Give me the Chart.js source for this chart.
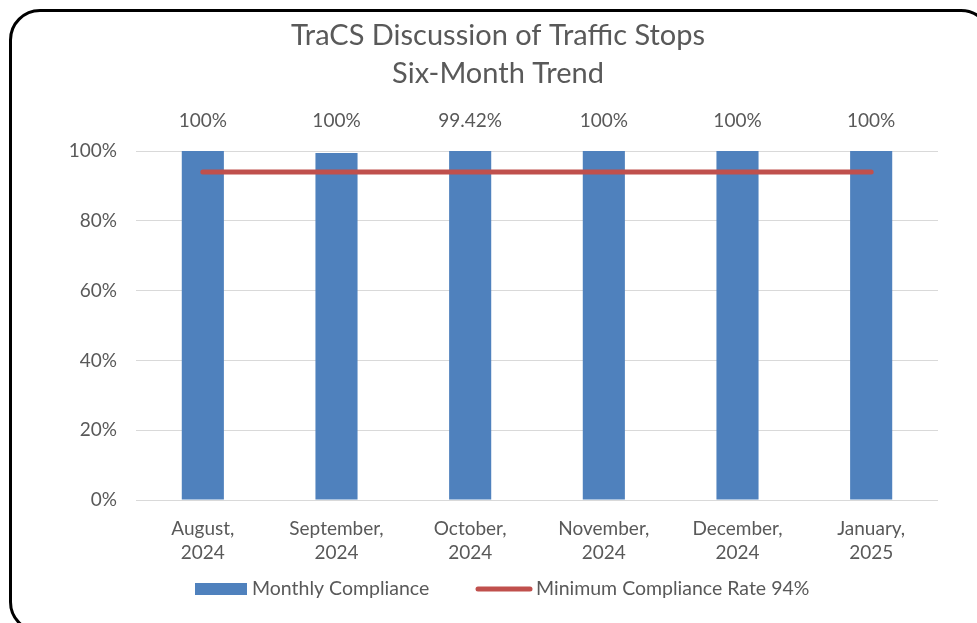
<!DOCTYPE html>
<html>
<head>
<meta charset="utf-8">
<script src="https://cdn.jsdelivr.net/npm/chart.js@4.4.0/dist/chart.umd.min.js"></script>
<style>
  html, body { margin: 0; padding: 0; background: #fff; overflow: hidden; }
  #wrap { position: relative; width: 977px; height: 623px; overflow: hidden; }
  #frame { position: absolute; left: 9px; top: 9px; width: 983px; height: 624px; border: 3px solid #000; border-radius: 31px; box-sizing: border-box; }
  canvas { position: absolute; left: 0; top: 0; }
</style>
</head>
<body>
<div id="wrap">
  <div id="frame"></div>
  <canvas id="c" width="977" height="623"></canvas>
</div>
<script>
const categories = [["August,", "2024"], ["September,", "2024"], ["October,", "2024"], ["November,", "2024"], ["December,", "2024"], ["January,", "2025"]];
const monthlyCompliance = [100, 99.42, 100, 100, 100, 100];
const dataLabels = ["100%", "100%", "99.42%", "100%", "100%", "100%"];
const minimumRate = [94, 94, 94, 94, 94, 94];
const yTicks = [0, 20, 40, 60, 80, 100];
const seriesNames = ["Monthly Compliance", "Minimum Compliance Rate 94%"];
const titleLines = ["TraCS Discussion of Traffic Stops", "Six-Month Trend"];

const FONT = "Lato, 'Open Sans', sans-serif";
const FS = 19;
const TEXT = "#595959";
const BLUE = "#4f81bd";
const RED = "#c0504d";

const titlePlugin = {
  id: 'titleLines',
  afterDraw(chart) {
    const ctx = chart.ctx;
    ctx.save();
    ctx.font = "29px " + FONT;
    ctx.fillStyle = TEXT;
    ctx.textAlign = 'center';
    ctx.textBaseline = 'middle';
    ctx.fillText(titleLines[0], 498, 36);
    ctx.fillText(titleLines[1], 498, 74);
    ctx.restore();
  }
};

const labelPlugin = {
  id: 'topLabels',
  afterDatasetsDraw(chart) {
    const ctx = chart.ctx;
    const x = chart.scales.x;
    ctx.save();
    ctx.font = FS + "px " + FONT;
    ctx.fillStyle = TEXT;
    ctx.textAlign = 'center';
    ctx.textBaseline = 'middle';
    dataLabels.forEach((t, i) => {
      ctx.fillText(t, x.getPixelForValue(i), chart.chartArea.top - 30);
    });
    ctx.restore();
  }
};

const legendPlugin = {
  id: 'customLegend',
  afterDraw(chart) {
    const ctx = chart.ctx;
    const y = 589;
    ctx.save();
    ctx.font = "19.5px " + FONT;
    ctx.textBaseline = 'middle';
    ctx.textAlign = 'left';
    ctx.fillStyle = BLUE;
    ctx.fillRect(195, y - 6, 52, 12);
    ctx.fillStyle = TEXT;
    ctx.fillText(seriesNames[0], 252, y);
    ctx.strokeStyle = RED;
    ctx.lineWidth = 5;
    ctx.lineCap = 'round';
    ctx.beginPath();
    ctx.moveTo(478, y);
    ctx.lineTo(530, y);
    ctx.stroke();
    ctx.fillText(seriesNames[1], 536, y);
    ctx.restore();
  }
};

new Chart(document.getElementById('c'), {
  data: {
    labels: categories,
    datasets: [
      {
        type: 'line',
        label: seriesNames[1],
        data: minimumRate,
        borderColor: RED,
        borderWidth: 5,
        borderCapStyle: 'round',
        pointRadius: 0,
        fill: false,
        order: 0
      },
      {
        type: 'bar',
        label: seriesNames[0],
        data: monthlyCompliance,
        backgroundColor: BLUE,
        categoryPercentage: 1,
        barPercentage: 0.315,
        order: 1
      }
    ]
  },
  options: {
    responsive: false,
    animation: false,
    layout: { padding: { left: 0, right: 39, top: 151, bottom: 0 } },
    plugins: {
      legend: { display: false },
      tooltip: { enabled: false },
      title: { display: false }
    },
    scales: {
      x: {
        grid: { display: false },
        border: { display: false },
        ticks: {
          color: TEXT,
          font: { family: FONT, size: FS, lineHeight: 1.26 },
          padding: 9,
          maxRotation: 0,
          autoSkip: false
        },
        afterFit(s) { s.height = 123; }
      },
      y: {
        min: 0,
        max: 100,
        afterBuildTicks(s) { s.ticks = yTicks.map(v => ({ value: v })); },
        grid: { color: '#d9d9d9', lineWidth: 1, drawTicks: false },
        border: { display: false },
        ticks: {
          color: TEXT,
          font: { family: FONT, size: FS },
          padding: 19,
          callback: v => v + '%'
        },
        afterFit(s) { s.width = 136; }
      }
    }
  },
  plugins: [titlePlugin, labelPlugin, legendPlugin]
});
</script>
</body>
</html>
